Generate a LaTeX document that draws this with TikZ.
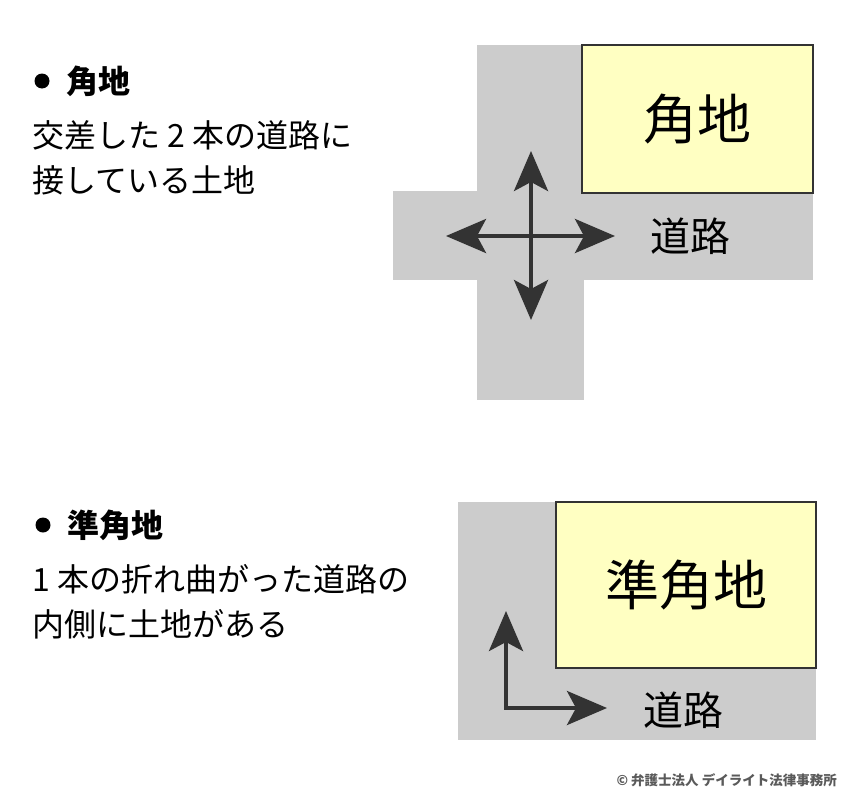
\documentclass[tikz,border=0pt]{standalone}
\usepackage{fontspec}
\setmainfont{Noto Sans CJK JP}
\usetikzlibrary{positioning,calc,arrows.meta}
\definecolor{RoadGray}{RGB}{204,204,204}
\definecolor{LotYellow}{RGB}{255,255,194}
\definecolor{InkGray}{RGB}{51,51,51}
\definecolor{NoteGray}{RGB}{90,90,90}
\tikzset{
	road/.style={fill=RoadGray,draw=none},
	lot/.style={draw=InkGray,fill=LotYellow,line width=2pt,inner sep=0pt,
		font=\fontsize{54}{60}\selectfont},
	way/.style={draw=InkGray,line width=4pt,
		{Stealth[length=40pt,width=34pt,inset=9pt]}-{Stealth[length=40pt,width=34pt,inset=9pt]}},
	bul/.style={circle,fill=black,inner sep=0pt,minimum size=15pt},
	head/.style={inner sep=0pt,font=\fontsize{32}{36}\selectfont\bfseries},
	body/.style={inner sep=0pt,align=left,anchor=west,font=\fontsize{32}{45}\selectfont},
	tag/.style={inner sep=0pt,font=\fontsize{40}{44}\selectfont},
}
\begin{document}
\begin{tikzpicture}[x=1pt,y=-1pt]
	\useasboundingbox (0,0) rectangle (850,800);
	% corner lot
	\fill[road] (477,45) rectangle (584,400);
	\fill[road] (393,191) rectangle (813,280);
	\node[lot,minimum width=231pt,minimum height=148pt] (kado) at (697.5,119) {角地};
	\node[tag] (road1) at (690,236) {道路};
	\coordinate (c) at (531,236);
	\coordinate (cn) at (531,151);
	\coordinate (cs) at (531,320);
	\coordinate (cw) at (446,236);
	\coordinate (ce) at (615,236);
	\foreach \a/\b in {cn/cs,cw/ce}
	\draw[way] (\a)--(\b);
	\node[bul] (b1) at (42,81) {};
	\node[head,right=17pt of b1] (h1) {角地};
	\node[body] (t1) at (32,158) {交差した 2 本の道路に\\接している土地};
	% quasi-corner lot
	\fill[road] (458,502) rectangle (816,740);
	\node[lot,minimum width=260pt,minimum height=166pt] (junkado) at (686,585) {準角地};
	\node[tag] (road2) at (683,710) {道路};
	\coordinate (q) at (506,708);
	\coordinate (qn) at (506,611);
	\coordinate (qe) at (607,708);
	\draw[way] (qn)--(q)--(qe);
	\node[bul] (b2) at (43,525) {};
	\node[head,right=17pt of b2] (h2) {準角地};
	\node[body] (t2) at (32,602) {1 本の折れ曲がった道路の\\内側に土地がある};
	\node[inner sep=0pt,anchor=east,text=NoteGray,font=\fontsize{13.5}{16}\selectfont\bfseries] (copy) at (837,780) {© 弁護士法人 デイライト法律事務所};
\end{tikzpicture}
\end{document}
